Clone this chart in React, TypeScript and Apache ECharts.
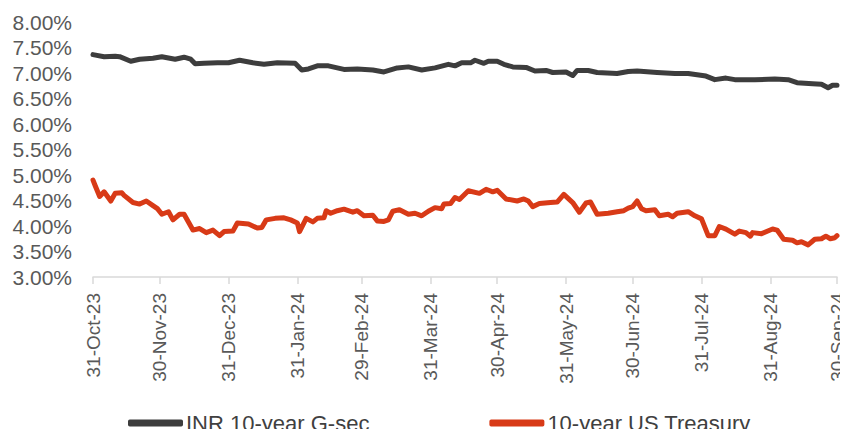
import React, { useEffect, useRef } from "react";
import * as echarts from "echarts";

// Day offsets counted from 31-Oct-2023
const tickDays = [0, 30, 61, 92, 121, 152, 182, 213, 243, 274, 305, 335];
const tickLabels = [
  "31-Oct-23", "30-Nov-23", "31-Dec-23", "31-Jan-24", "29-Feb-24", "31-Mar-24",
  "30-Apr-24", "31-May-24", "30-Jun-24", "31-Jul-24", "31-Aug-24", "30-Sep-24",
];

const inrDays = [
  0, 5, 10, 12, 17, 21, 27, 31, 37, 41, 44, 46, 50, 56, 61, 66, 72, 77, 83, 91,
  94, 97, 101, 106, 113, 119, 126, 131, 137, 142, 148, 154, 160, 163, 166, 170,
  172, 176, 178, 182, 185, 189, 195, 199, 204, 207, 213, 216, 218, 223, 227, 236,
  241, 245, 254, 262, 268, 276, 280, 285, 289, 298, 307, 313, 317, 324, 328, 331,
  333, 335,
];
const inrYield = [
  7.36, 7.32, 7.33, 7.32, 7.23, 7.27, 7.29, 7.32, 7.27, 7.31, 7.27, 7.18, 7.19,
  7.2, 7.2, 7.25, 7.2, 7.17, 7.2, 7.19, 7.06, 7.08, 7.14, 7.14, 7.07, 7.08, 7.06,
  7.02, 7.1, 7.12, 7.06, 7.1, 7.17, 7.14, 7.2, 7.2, 7.25, 7.19, 7.23, 7.23, 7.17,
  7.12, 7.11, 7.04, 7.05, 7.01, 7.02, 6.95, 7.05, 7.05, 7.01, 6.99, 7.03, 7.04,
  7.01, 6.99, 6.99, 6.94, 6.87, 6.9, 6.87, 6.87, 6.88, 6.87, 6.81, 6.79, 6.78,
  6.71, 6.76, 6.76,
];

const usDays = [
  0, 1, 3, 5, 8, 10, 13, 14, 18, 21, 24, 27, 29, 31, 34, 36, 39, 41, 45, 48, 51,
  54, 57, 59, 63, 65, 70, 74, 76, 78, 82, 86, 89, 92, 93, 96, 99, 101, 104, 105,
  107, 110, 113, 117, 119, 122, 126, 128, 131, 133, 135, 138, 142, 145, 148, 151,
  154, 157, 158, 161, 163, 165, 169, 174, 177, 180, 182, 186, 191, 194, 196, 198,
  201, 206, 209, 212, 216, 219, 222, 224, 227, 232, 236, 239, 241, 243, 245, 247,
  249, 253, 255, 259, 261, 263, 268, 271, 274, 277, 280, 282, 285, 289, 291, 294,
  296, 297, 301, 306, 308, 311, 315, 317, 319, 322, 325, 328, 330, 332, 334, 335,
];
const usYield = [
  4.9, 4.79, 4.58, 4.67, 4.49, 4.64, 4.65, 4.6, 4.46, 4.43, 4.49, 4.4, 4.34,
  4.23, 4.28, 4.12, 4.23, 4.23, 3.92, 3.95, 3.87, 3.92, 3.81, 3.89, 3.9, 4.06,
  4.04, 3.96, 3.97, 4.12, 4.15, 4.16, 4.12, 4.06, 3.89, 4.15, 4.08, 4.15, 4.16,
  4.3, 4.25, 4.3, 4.33, 4.27, 4.3, 4.2, 4.21, 4.1, 4.09, 4.12, 4.29, 4.32, 4.23,
  4.25, 4.2, 4.29, 4.36, 4.34, 4.43, 4.44, 4.56, 4.52, 4.69, 4.64, 4.72, 4.67,
  4.7, 4.53, 4.49, 4.53, 4.49, 4.38, 4.44, 4.46, 4.47, 4.62, 4.46, 4.27, 4.45,
  4.47, 4.23, 4.25, 4.28, 4.3, 4.35, 4.38, 4.49, 4.34, 4.3, 4.32, 4.2, 4.23,
  4.18, 4.25, 4.28, 4.2, 4.14, 3.81, 3.81, 3.99, 3.94, 3.84, 3.9, 3.87, 3.8,
  3.87, 3.85, 3.94, 3.92, 3.74, 3.72, 3.67, 3.69, 3.63, 3.74, 3.75, 3.8, 3.75,
  3.77, 3.81,
];

const seriesNames = ["INR 10-year G-sec", "10-year US Treasury"];

export default function App() {
  const ref = useRef<HTMLDivElement>(null);
  useEffect(() => {
    if (!ref.current) return;
    const chart = echarts.init(ref.current, undefined, { renderer: "svg" });
    const font = "'Liberation Sans', Arial, sans-serif";
    chart.setOption({
      animation: false,
      grid: { left: 93, right: 11, top: 22, bottom: 160, containLabel: false },
      legend: {
        top: 412,
        left: 128,
        padding: 0,
        itemGap: 120,
        itemWidth: 55,
        itemHeight: 7,
        icon: "roundRect",
        textStyle: { fontFamily: "'Liberation Sans Narrow', 'Liberation Sans', sans-serif", fontSize: 22, color: "#404040", padding: [0, 0, 0, -2] },
        data: seriesNames,
      },
      xAxis: {
        type: "value",
        min: 0,
        max: 335,
        axisLine: { show: true, lineStyle: { color: "#d9d9d9", width: 1.5 } },
        axisTick: { show: true, length: 7, customValues: tickDays, lineStyle: { color: "#d9d9d9", width: 1.5 } },
        splitLine: { show: false },
        axisLabel: {
          customValues: tickDays,
          rotate: 90,
          margin: 16,
          fontFamily: font,
          fontSize: 19,
          color: "#595959",
          formatter: (v: number) => {
            const i = tickDays.indexOf(Math.round(v));
            return i >= 0 ? tickLabels[i] : "";
          },
        },
      },
      yAxis: {
        type: "value",
        min: 3,
        max: 8,
        interval: 0.5,
        axisLine: { show: false },
        axisTick: { show: false },
        splitLine: { show: false },
        axisLabel: {
          margin: 21,
          fontFamily: font,
          fontSize: 21,
          color: "#595959",
          formatter: (v: number) => v.toFixed(2) + "%",
        },
      },
      series: [
        {
          name: seriesNames[0],
          type: "line",
          showSymbol: false,
          symbol: "none",
          color: "#3d3d3d",
          lineStyle: { width: 5, color: "#3d3d3d", cap: "round", join: "round" },
          data: inrDays.map((d, i) => [d, inrYield[i]]),
        },
        {
          name: seriesNames[1],
          type: "line",
          showSymbol: false,
          symbol: "none",
          color: "#d83a17",
          lineStyle: { width: 5, color: "#d83a17", cap: "round", join: "round" },
          data: usDays.map((d, i) => [d, usYield[i]]),
        },
      ],
    });
    return () => chart.dispose();
  }, []);
  return <div ref={ref} style={{ width: 848, height: 437, margin: -8 }} />;
}
